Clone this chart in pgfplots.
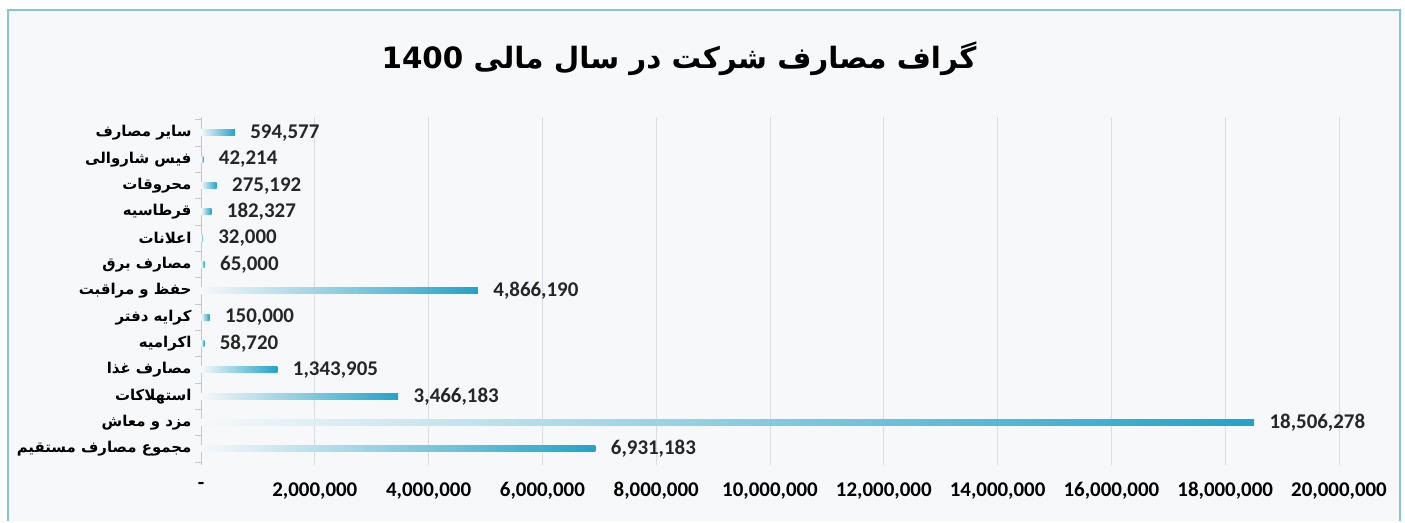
\documentclass[border=0pt]{standalone}
\usepackage{fontspec}
\usepackage{pgfplots}
\usepackage{pgfplotstable}
\pgfplotsset{compat=1.18}
\TeXXeTstate=1
\setmainfont{Carlito}
\newfontfamily\arabicfont[Script=Arabic]{DejaVu Sans}
\newcommand\fa[1]{{\arabicfont\bfseries #1}}

\definecolor{bg}{HTML}{F6F8FA}
\definecolor{frame}{HTML}{86C6D2}
\definecolor{barmid}{HTML}{5CC4E2}
\definecolor{barend}{HTML}{22A3C9}
\definecolor{gridc}{HTML}{DADDE0}

% values from bottom (0) to top (12)
\pgfplotstableread{
x        y  label
6931183  0  6,931,183
18506278 1  18,506,278
3466183  2  3,466,183
1343905  3  1,343,905
58720    4  58,720
150000   5  150,000
4866190  6  4,866,190
65000    7  65,000
32000    8  32,000
182327   9  182,327
275192   10 275,192
42214    11 42,214
594577   12 594,577
}\costs

\begin{document}
\begin{tikzpicture}[x=1bp,y=1bp]
\fill[white] (0,0) rectangle (1405,521);
\fill[bg] (8,0) rectangle (1400,511);
\draw[frame, line width=2.5bp] (8,0) -- (8,511) -- (1400,511) -- (1400,0);

\node[font=\arabicfont\bfseries\fontsize{29.5}{34}\selectfont] at (679,462)
  {\beginR گراف مصارف شرکت در سال مالی \beginL 1400\endL\endR};

\begin{axis}[
  at={(201bp,56.2bp)}, anchor=south west,
  scale only axis, width=1138bp, height=347.6bp,
  xmin=0, xmax=20000000, ymin=-0.6, ymax=12.6,
  axis x line=bottom, axis y line=left,
  x axis line style={draw=none},
  y axis line style={-, draw=gray!45, line width=0.8bp},
  xtick={0,2000000,...,20000000},
  xticklabels={{-},{2,000,000},{4,000,000},{6,000,000},{8,000,000},{10,000,000},{12,000,000},{14,000,000},{16,000,000},{18,000,000},{20,000,000}},
  xtick style={draw=none},
  scaled x ticks=false,
  xticklabel style={font=\bfseries\fontsize{21}{24}\selectfont, yshift=-14bp},
  xmajorgrids, grid style={gridc, line width=0.8bp},
  ytick={0,...,12},
  yticklabels={
    \fa{\beginR مجموع مصارف مستقیم\endR},
    \fa{\beginR مزد و معاش\endR},
    \fa{\beginR استهلاکات\endR},
    \fa{\beginR مصارف غذا\endR},
    \fa{\beginR اکرامیه\endR},
    \fa{\beginR کرایه دفتر\endR},
    \fa{\beginR حفظ و مراقبت\endR},
    \fa{\beginR مصارف برق\endR},
    \fa{\beginR اعلانات\endR},
    \fa{\beginR قرطاسیه\endR},
    \fa{\beginR محروقات\endR},
    \fa{\beginR فیس شاروالی\endR},
    \fa{\beginR سایر مصارف\endR}},
  yticklabel style={font=\fontsize{15}{18}\selectfont, xshift=-6bp},
  minor ytick={-0.5,0.5,...,12.5},
  major tick length=0pt, minor tick length=6bp,
  tick align=outside,
  ytick style={draw=gray!45, line width=0.8bp},
  clip=false,
]
% one plot per bar, so each bar gets its own gradient
\pgfplotsinvokeforeach{0,...,12}{
\addplot[xbar, bar shift=0pt, bar width=6bp, draw=none,
  left color=bg, middle color=barmid, right color=barend,
  nodes near coords, point meta=explicit symbolic,
  every node near coord/.append style={font=\bfseries\fontsize{21}{24}\selectfont, anchor=west, xshift=12bp, text=black!85},
  restrict expr to domain={\coordindex}{#1:#1}]
  table[x=x, y=y, meta=label] {\costs};
}
\end{axis}
\end{tikzpicture}
\end{document}
